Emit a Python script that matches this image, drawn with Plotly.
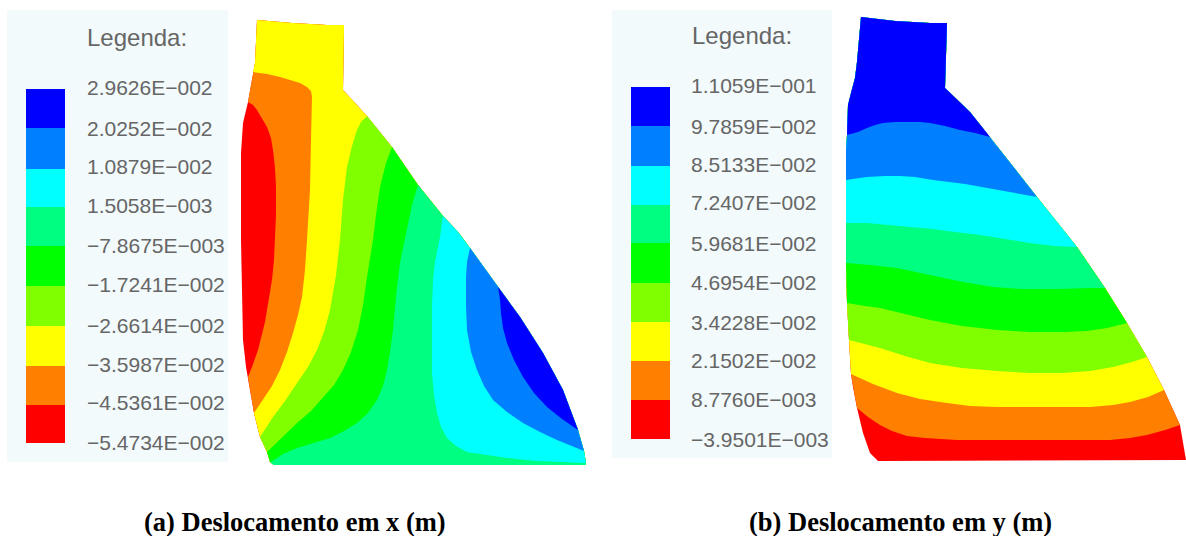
import plotly.graph_objects as go

BAND_COLORS = ["#FF0000", "#FF8000", "#FFFF00", "#80FF00", "#00FF00",
               "#00FF80", "#00FFFF", "#0080FF", "#0000FF"]
SWATCH_COLORS = ["#0000FF", "#0080FF", "#00FFFF", "#00FF80", "#00FF00",
                 "#80FF00", "#FFFF00", "#FF8000", "#FF0000", ]

LABELS_A = ["2.9626E−002", "2.0252E−002", "1.0879E−002", "1.5058E−003", "−7.8675E−003",
            "−1.7241E−002", "−2.6614E−002", "−3.5987E−002", "−4.5361E−002", "−5.4734E−002"]
LABELS_B = ["1.1059E−001", "9.7859E−002", "8.5133E−002", "7.2407E−002", "5.9681E−002",
            "4.6954E−002", "3.4228E−002", "2.1502E−002", "8.7760E−003", "−3.9501E−003"]
LABEL_Y_A = [87, 128, 166, 205, 245, 284, 325, 364, 402, 442]
LABEL_Y_B = [85, 126, 164, 202, 243, 282, 322, 360, 399, 439]
SWATCH_EDGES_A = [89, 128, 169, 207, 246, 286, 326, 366, 405, 443]
SWATCH_EDGES_B = [87, 126, 166, 205, 243, 283, 322, 361, 400, 439]

OUTLINE_A = [(257,20),(292,23),(327,25),(344,25),(343,90),(367,116),(392,147),(418,185),(443,216),
             (458,232),(470,248),(498,287),(520,317),(543,353),(563,390),(578,430),(584,451),(586,463),
             (586,465),(274,465),(270,462),(267,452),(260,437),(254,413),(248,377),(246,367),(243,340),
             (242,297),(241,240),(241,153),(243,123),(248,102),(253,72),(255,63)]
CONTOURS_A = [
    [(248,102),(253,105),(257,110),(262,118),(267,127),(271,138),(273,150),(275,168),(276,187),(276,215),
     (275,240),(274,260),(272,280),(269,300),(265,322),(258,350),(252,367),(248,377)],
    [(253,72),(267,74),(280,77),(290,80),(300,83),(307,87),(311,91),(312,97),(311,140),(310,190),(307,240),
     (305,270),(302,297),(298,315),(293,333),(287,352),(280,370),(272,386),(263,400),(254,413)],
    [(367,116),(361,122),(357,130),(352,146),(347,167),(343,200),(340,240),(336,275),(330,310),(324,332),
     (317,350),(308,367),(297,383),(285,401),(273,417),(260,437)],
    [(392,147),(386,163),(380,187),(376,215),(373,240),(370,260),(367,277),(363,305),(358,330),(351,352),
     (343,370),(334,385),(323,397),(311,411),(297,423),(281,438),(267,452)],
    [(418,185),(412,205),(407,230),(403,248),(400,263),(396,296),(393,330),(390,352),(387,370),(383,386),
     (377,400),(368,413),(357,423),(344,431),(330,438),(313,443),(297,448),(283,454),(274,460),(270,462)],
    [(443,216),(440,237),(435,262),(433,280),(432,305),(432,330),(432,373),(434,395),(437,413),(441,427),
     (447,438),(456,446),(467,452),(485,455),(507,458),(537,461),(586,463)],
    [(470,248),(467,262),(466,277),(466,305),(467,330),(471,352),(477,370),(484,386),(493,400),(507,412),
     (523,423),(540,432),(557,440),(584,451)],
    [(498,287),(500,300),(501,313),(503,328),(507,343),(514,360),(523,377),(534,393),(547,407),(562,419),(578,430)],
]

OUTLINE_B = [(861,17),(895,21),(930,23),(947,23),(945,88),(970,112),(990,137),(1000,150),(1037,197),
             (1063,230),(1077,247),(1105,288),(1127,323),(1147,357),(1164,390),(1180,425),(1186,460),
             (878,461),(870,453),(863,433),(857,408),(853,387),(851,374),(849,340),(847,303),(846,263),(846,223),(846,180),
             (846,150),(847,135),(848,105),(851,93),(855,78),(857,62),(859,35)]
CONTOURS_B = [
    [(857,408),(868,417),(880,425),(892,431),(907,436),(925,438),(957,440),(1110,440),(1130,438),(1147,435),(1165,430),(1180,425)],
    [(851,374),(873,384),(897,393),(920,399),(947,403),(970,406),(997,407),(1090,407),(1113,405),(1130,402),(1148,397),(1164,390)],
    [(849,340),(865,344),(880,348),(905,356),(930,363),(962,368),(997,371),(1030,373),(1063,373),(1090,371),(1113,367),(1132,362),(1147,357)],
    [(847,303),(865,306),(880,308),(905,314),(930,320),(962,326),(997,330),(1030,332),(1063,332),(1087,331),(1107,328),(1127,323)],
    [(846,263),(870,265),(897,268),(930,275),(963,282),(993,287),(1023,289),(1058,289),(1090,288),(1105,288)],
    [(846,223),(867,223),(890,225),(910,227),(933,229),(947,231),(980,235),(1005,239),(1030,243),(1055,246),(1077,247)],
    [(846,180),(867,177),(885,176),(900,176),(915,177),(933,180),(965,184),(1000,190),(1037,197)],
    [(847,135),(858,132),(867,128),(875,125),(883,123),(895,122),(907,122),(920,122),(930,123),(945,126),(960,130),(975,133),(990,137)],
]


def region(outline, contour):
    """Outline clockwise from the contour's start to its end, closed back along the contour."""
    i, j = outline.index(contour[0]), outline.index(contour[-1])
    path = outline[i:j + 1] if i <= j else outline[i:] + outline[:j + 1]
    return path + contour[::-1][1:]


def add_poly(fig, pts, color):
    fig.add_trace(go.Scatter(x=[p[0] for p in pts] + [pts[0][0]],
                             y=[p[1] for p in pts] + [pts[0][1]],
                             mode="lines", fill="toself", fillcolor=color,
                             line=dict(width=0), hoverinfo="skip", showlegend=False))


fig = go.Figure()
for outline, contours in ((OUTLINE_A, CONTOURS_A), (OUTLINE_B, CONTOURS_B)):
    add_poly(fig, outline, BAND_COLORS[0])
    for contour, color in zip(contours, BAND_COLORS[1:]):
        add_poly(fig, region(outline, contour), color)

for x_mid, edges in ((45.5, SWATCH_EDGES_A), (650.5, SWATCH_EDGES_B)):
    fig.add_trace(go.Bar(x=[x_mid] * 9, base=edges[:-1],
                         y=[b - a for a, b in zip(edges[:-1], edges[1:])],
                         width=39, marker=dict(color=SWATCH_COLORS, line=dict(width=0)),
                         hoverinfo="skip", showlegend=False))

annotations = []


def text(x, y, s, size, color, family, anchor="left"):
    annotations.append(dict(x=x, y=y, text=s, showarrow=False, xanchor=anchor, yanchor="middle",
                            font=dict(size=size, color=color, family=family),
                            xref="x", yref="y", borderpad=0))


GRAY = "#666666"
text(86, 37, "Legenda:", 24, GRAY, "Liberation Sans")
text(691, 35, "Legenda:", 24, GRAY, "Liberation Sans")
for s, y in zip(LABELS_A, LABEL_Y_A):
    text(86, y, s, 21, GRAY, "Liberation Sans")
for s, y in zip(LABELS_B, LABEL_Y_B):
    text(690, y, s, 21, GRAY, "Liberation Sans")
text(295, 522, "<b>(a) Deslocamento em x (m)</b>", 26.5, "#000000", "Liberation Serif", "center")
text(900, 522, "<b>(b) Deslocamento em y (m)</b>", 26.5, "#000000", "Liberation Serif", "center")

PANEL = "#F2FAFC"
fig.update_layout(
    width=1186, height=536, margin=dict(l=0, r=0, t=0, b=0),
    paper_bgcolor="white", plot_bgcolor="white", barmode="overlay",
    xaxis=dict(range=[0, 1186], visible=False, fixedrange=True),
    yaxis=dict(range=[536, 0], visible=False, fixedrange=True),
    annotations=annotations,
    shapes=[dict(type="rect", x0=7, x1=228, y0=10, y1=462, fillcolor=PANEL, line_width=0, layer="below"),
            dict(type="rect", x0=612, x1=832, y0=10, y1=458, fillcolor=PANEL, line_width=0, layer="below")],
)
fig.write_html("out.html", config=dict(displayModeBar=False),
               post_script="document.body.style.margin='0';document.body.style.overflow='hidden';")
